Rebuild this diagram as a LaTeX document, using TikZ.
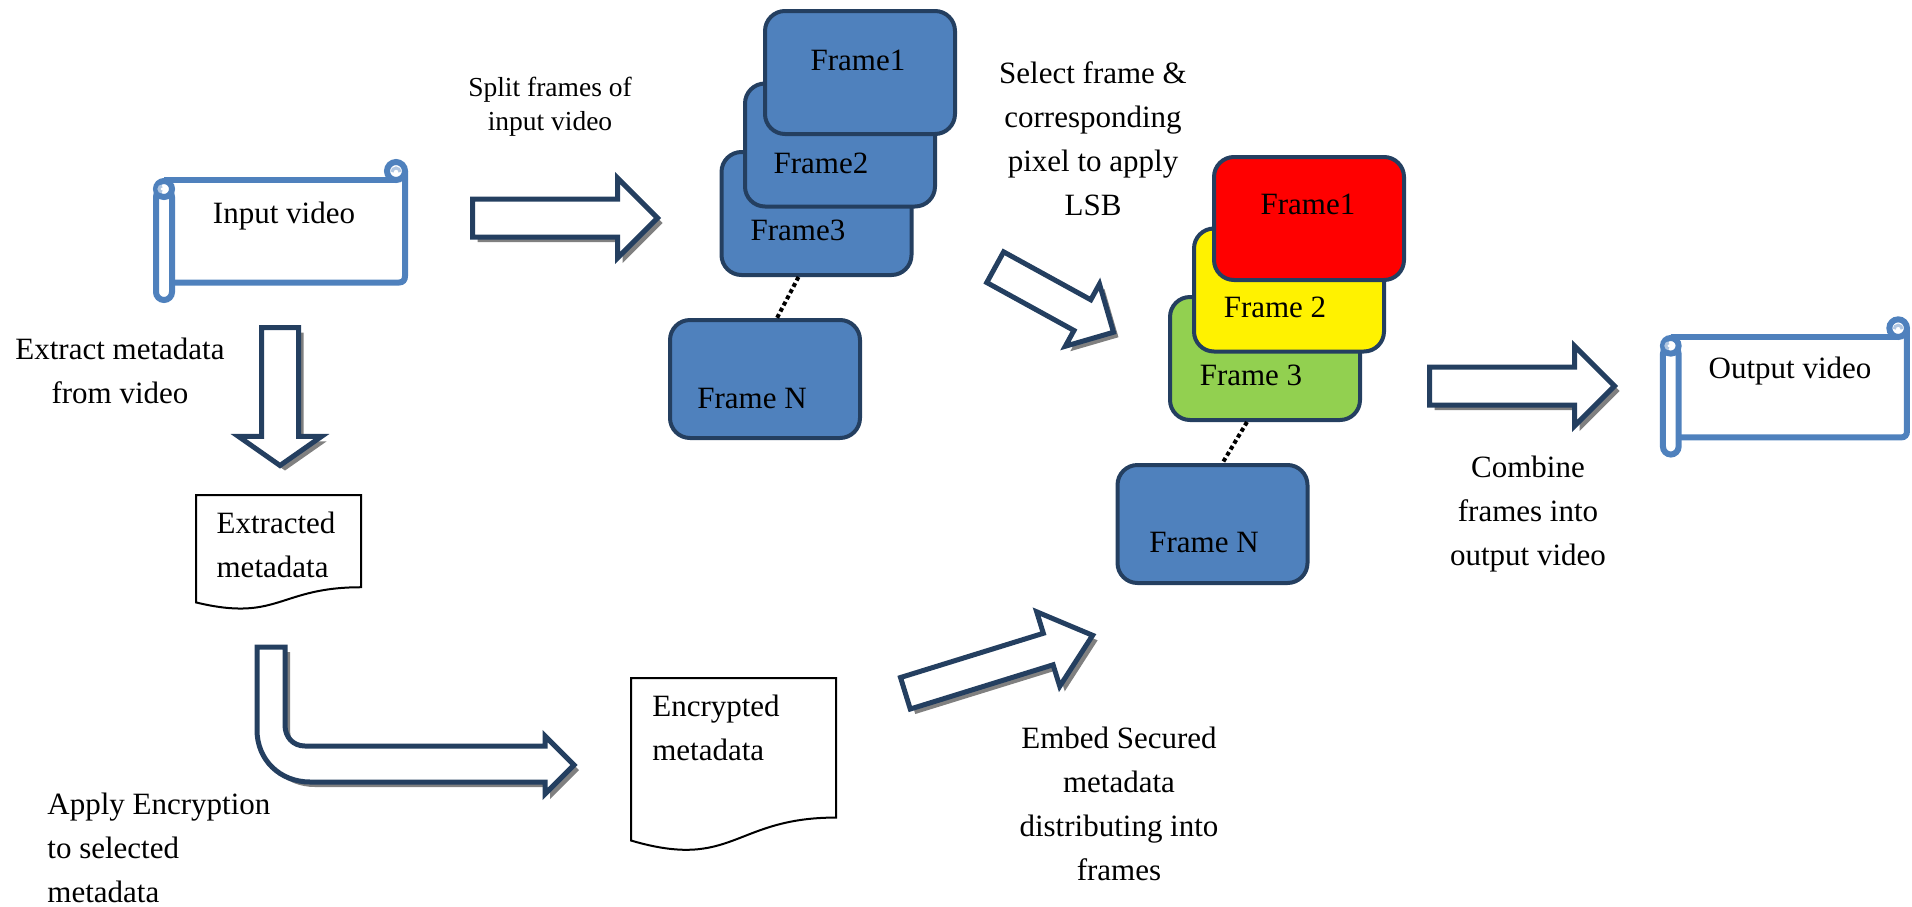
\documentclass[tikz,border=0pt]{standalone}
\usepackage{fontspec}
\setmainfont{Liberation Serif}
\usetikzlibrary{shapes.arrows, shadows, positioning}
\definecolor{scrollblue}{HTML}{4F81BD}
\definecolor{frameblue}{HTML}{4F81BD}
\definecolor{navy}{HTML}{243F60}
\definecolor{leafgreen}{HTML}{92D050}
\tikzset{
  blockarrow/.style={single arrow, draw=navy, fill=white, line width=2.5pt,
    inner sep=0pt, minimum width=0pt, anchor=tail,
    general shadow={fill=black!50, shadow xshift=2.5pt, shadow yshift=-2.5pt}},
  bentarrow/.style={draw=navy, fill=white, line width=2.5pt, line join=miter,
    general shadow={fill=black!50, shadow xshift=2.5pt, shadow yshift=-2.5pt}},
  framebox/.style={rectangle, rounded corners=10pt, draw=navy, line width=2pt,
    minimum width=95pt, minimum height=61.5pt, inner sep=0pt},
  dotline/.style={line width=2pt, dash pattern=on 2pt off 1.5pt},
  scrollline/.style={draw=scrollblue, line width=3pt},
  pics/vscroll/.style={code={
    \draw[scrollline] (11,2) -- (243,2);
    \draw[scrollline] (252,-7) -- (252,98) .. controls (252,102) and (250,104.5) .. (246,104.5) -- (19,104.5);
    \draw[scrollline, fill=white, rounded corners=4pt] (3,11) rectangle (19,122);
    \draw[scrollline, fill=white] (11,11) circle[radius=8];
    \draw[scrollline, fill=white] (243,-7) circle[radius=9];
    \draw[scrollblue!45, line width=1.5pt] (239,-6) arc[start angle=180, end angle=360, radius=4];
    \draw[scrollblue!45, line width=1.5pt] (9,14) arc[start angle=90, end angle=270, radius=3];
  }},
  pics/docshape/.style 2 args={code={
    \draw[line width=1pt] (0,0) -- (#1,0) -- (#1,{0.802*#2})
      .. controls ({0.5*#1},{0.802*#2}) and ({0.5*#1},{1.1075*#2}) .. (0,{0.934*#2}) -- cycle;
  }}
}

\begin{document}
\begin{tikzpicture}[x=0.5pt, y=-0.5pt,
  every node/.style={font=\fontsize{15.5}{22}\selectfont}]
    \useasboundingbox (0,0) rectangle (1912,906);

    % videos
    \pic at (153,178) {vscroll};
    \node[anchor=base] (invid) at (284,223) {Input video};
    \pic[scale=0.98] at (1660,335) {vscroll};
    \node[anchor=base] (outvid) at (1790,378) {Output video};

    % split frames
    \node[framebox, fill=frameblue] (fa3) at (816.5,213.5) {};
    \node[anchor=base] (fa3t) at (798,240) {Frame3};
    \node[framebox, fill=frameblue] (fa2) at (840,145) {};
    \node[anchor=base] (fa2t) at (821,173) {Frame2};
    \node[framebox, fill=frameblue] (fa1) at (860,72.5) {};
    \node[anchor=base] (fa1t) at (858,70) {Frame1};
    \node[framebox, fill=frameblue, minimum height=59pt] (faN) at (765,379) {};
    \node[anchor=base] (faNt) at (752,408) {Frame N};
    \draw[dotline] ([xshift=-9pt]fa3.south) -- ([xshift=6pt]faN.north);

    % frames with LSB
    \node[framebox, fill=leafgreen] (fb3) at (1265,358.5) {};
    \node[anchor=base] (fb3t) at (1251,385) {Frame 3};
    \node[framebox, fill=yellow] (fb2) at (1289,290) {};
    \node[anchor=base] (fb2t) at (1275,317) {Frame 2};
    \node[framebox, fill=red] (fb1) at (1309,218.5) {};
    \node[anchor=base] (fb1t) at (1308,214) {Frame1};
    \node[framebox, fill=frameblue, minimum height=59pt] (fbN) at (1212.5,524) {};
    \node[anchor=base] (fbNt) at (1204,552) {Frame N};
    \draw[dotline] ([xshift=-9pt]fb3.south) -- ([xshift=5pt]fbN.north);

    % metadata
    \pic at (196,495) {docshape={165}{115}};
    \node[align=left] (extr) at (276,545) {Extracted\\metadata};
    \pic at (631,678) {docshape={205}{174}};
    \node[align=left] (encr) at (716,728) {Encrypted\\metadata};

    % block arrows
    \node[blockarrow, minimum height=92.5pt, inner ysep=8.25pt, single arrow head extend=10.5pt] (asplit) at (470,218) {};
    \node[blockarrow, minimum height=69pt, inner ysep=8pt, single arrow head extend=11.5pt,
      single arrow tip angle=110, rotate=-90] (aextract) at (280,325) {};
    \node[blockarrow, minimum height=67.5pt, inner ysep=7.5pt, single arrow head extend=9pt,
      rotate=-28.8] (aselect) at (993,266) {};
    \node[blockarrow, minimum height=98pt, inner ysep=7pt, single arrow head extend=11.25pt,
      single arrow tip angle=80, rotate=17.2] (aembed) at (903,694) {};
    \node[blockarrow, minimum height=92.5pt, inner ysep=8.25pt, single arrow head extend=10.5pt] (acombine) at (1427,386) {};
    \draw[bentarrow] (257,647) -- (285,647) -- (285,725) .. controls (285,737) and (293,746) .. (305,746)
      -- (545,746) -- (545,736) -- (574,765) -- (545,794) -- (545,782) -- (310,782)
      .. controls (280,782) and (257,760) .. (257,730) -- cycle;

    % labels
    \node[align=center, font=\fontsize{13.75}{17}\selectfont] (lsplit) at (550,107) {Split frames of\\input video};
    \node[align=center] (lselect) at (1093,139) {Select frame \&\\corresponding\\pixel to apply\\LSB};
    \node[align=center] (lextract) at (120,371) {Extract metadata\\from video};
    \node[align=left, anchor=west, inner sep=0pt] (lapply) at (47,848) {Apply Encryption\\to selected\\metadata};
    \node[align=center] (lembed) at (1119,804) {Embed Secured\\metadata\\distributing into\\frames};
    \node[align=center] (lcombine) at (1528,514) {Combine\\frames into\\output video};
\end{tikzpicture}
\end{document}
